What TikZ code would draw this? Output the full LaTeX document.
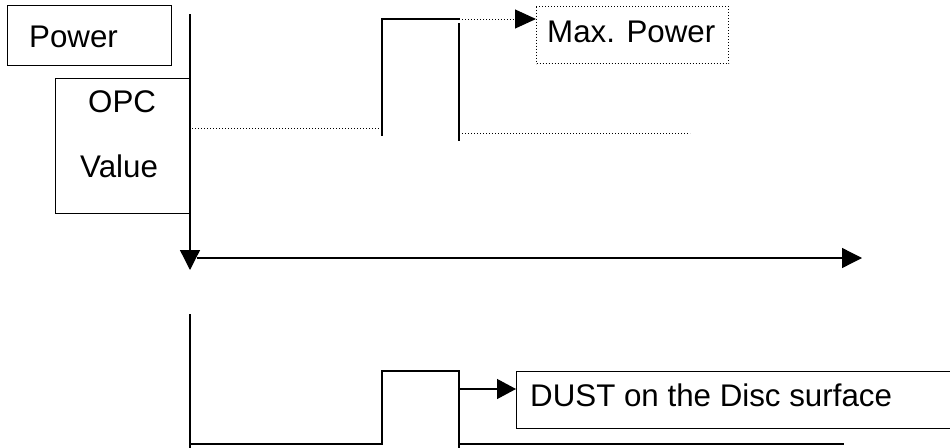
\documentclass[tikz,border=0pt]{standalone}
\usepackage{fontspec}
\setmainfont{Liberation Sans}
\usetikzlibrary{arrows.meta}
\tikzset{
  solidln/.style={line width=1.3pt, line cap=rect},
  dotln/.style={line width=1pt, dash pattern=on 1pt off 2pt},
  boxframe/.style={draw, line width=1.3pt, inner sep=0pt, anchor=north west},
  dotframe/.style={draw, line width=1pt, dash pattern=on 1pt off 2pt, inner sep=0pt, anchor=north west},
  lbl/.style={inner sep=0pt, anchor=base west, font=\fontsize{31.3}{36}\selectfont},
  tip/.style={-{Triangle[length=20pt,width=20pt]}}
}
\begin{document}
\begin{tikzpicture}[x=1pt,y=-1pt]
\useasboundingbox (0,0) rectangle (950,447);
% boxes
\node[boxframe, minimum width=164pt, minimum height=60pt] (powerbox) at (7,5) {};
\node[lbl] (powertxt) at (29,47) {Power};
\node[boxframe, minimum width=135pt, minimum height=135pt] (opcbox) at (55,78) {};
\node[lbl] (opctxt) at (88,112) {OPC};
\node[lbl] (valtxt) at (80,177) {Value};
\node[dotframe, minimum width=192pt, minimum height=57pt] (maxbox) at (536,6) {};
\node[lbl] (maxtxt) at (547,42) {Max. Power};
\node[boxframe, minimum width=450pt, minimum height=57pt] (dustbox) at (516,371) {};
\node[lbl] (dusttxt) at (530,406) {DUST on the Disc surface};
% coordinates
\coordinate (vtop) at (190,14);
\coordinate (vbot) at (190,270);
\coordinate (hstart) at (197,258);
\coordinate (hend) at (862,258);
\coordinate (d1a) at (192,128);
\coordinate (d1b) at (380,128);
\coordinate (p1a) at (382,135);
\coordinate (p1b) at (382,19);
\coordinate (p1c) at (459,19);
\coordinate (r1a) at (459,24);
\coordinate (r1b) at (459,140);
\coordinate (d2a) at (462,133);
\coordinate (d2b) at (690,133);
\coordinate (d3a) at (462,19);
\coordinate (lvtop) at (190,315);
\coordinate (lvbot) at (190,447);
\coordinate (b1) at (190,444);
\coordinate (b2) at (382,444);
\coordinate (b3) at (382,371);
\coordinate (b4) at (459,371);
\coordinate (b5) at (459,447);
\coordinate (b6) at (459,444);
\coordinate (b7) at (843,444);
\coordinate (a1) at (459,389);
% upper
\draw[solidln, tip, line cap=butt] (vtop) -- (vbot);
\draw[solidln, tip, line cap=butt] (hstart) -- (hend);
\draw[dotln] (d1a) -- (d1b);
\draw[solidln] (p1a) -- (p1b) -- (p1c);
\draw[solidln] (r1a) -- (r1b);
\draw[dotln] (d2a) -- (d2b);
\draw[dotln, -{Triangle[length=21pt,width=19pt]}] (d3a) -- (maxbox.west |- d3a);
% lower
\draw[solidln] (lvtop) -- (lvbot);
\draw[solidln] (b1) -- (b2) -- (b3) -- (b4) -- (b5);
\draw[solidln] (b6) -- (b7);
\draw[solidln, -{Triangle[length=19pt,width=20pt]}, line cap=butt] (a1) -- (dustbox.west |- a1);
\end{tikzpicture}
\end{document}
